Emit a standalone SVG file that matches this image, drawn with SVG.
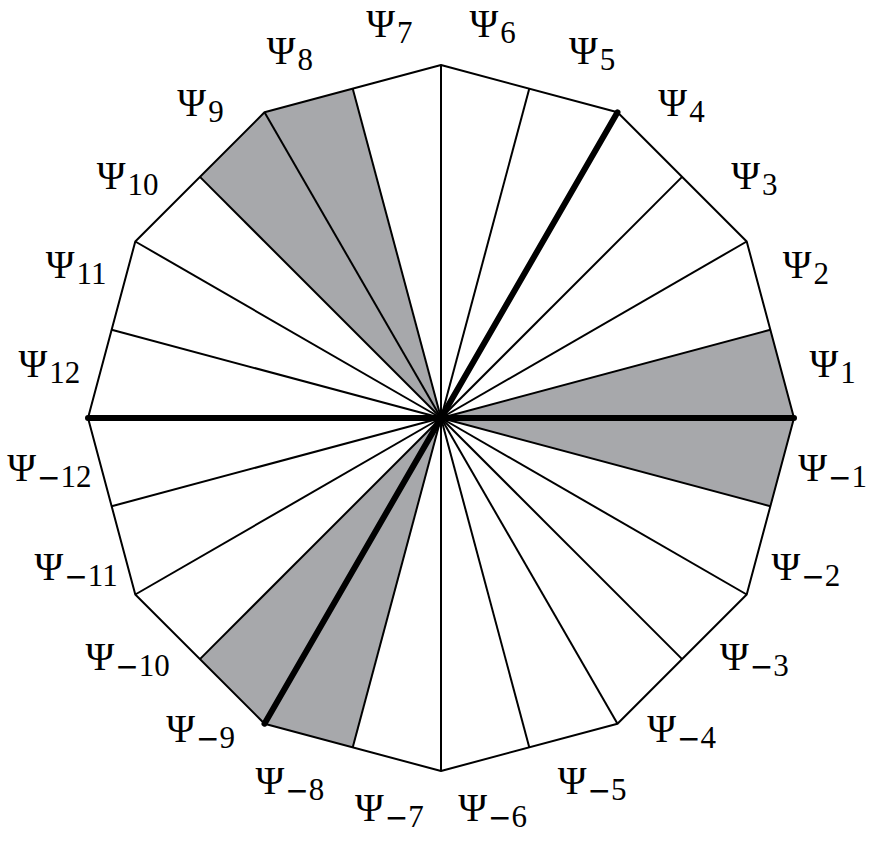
<svg xmlns="http://www.w3.org/2000/svg" width="872" height="856" viewBox="0 0 872 856">
<style>
.shade{fill:#a7a8ab;stroke:none}
.thin{stroke:#000;stroke-width:2;fill:none;stroke-linejoin:round}
.thick{stroke:#000;stroke-width:6;stroke-linecap:round;fill:none}
.lbl{font-family:"Liberation Serif","DejaVu Serif",serif;font-size:39px;fill:#000;text-anchor:middle}
.sub{font-size:31px}
.m{font-family:"DejaVu Sans",sans-serif;font-size:28px}
</style>
<rect width="872" height="856" fill="#fff"/>
<g id="shading">
<polygon class="shade" points="441,418 770.35,329.75 794,418 770.35,506.25"/>
<polygon class="shade" points="441,418 352.75,88.65 264.5,112.29 199.9,176.9"/>
<polygon class="shade" points="441,418 199.9,659.1 264.5,723.71 352.75,747.35"/>
</g>
<g id="rays" class="thin">
<line x1="441" y1="418" x2="794" y2="418"/>
<line x1="441" y1="418" x2="770.35" y2="329.75"/>
<line x1="441" y1="418" x2="746.71" y2="241.5"/>
<line x1="441" y1="418" x2="682.1" y2="176.9"/>
<line x1="441" y1="418" x2="617.5" y2="112.29"/>
<line x1="441" y1="418" x2="529.25" y2="88.65"/>
<line x1="441" y1="418" x2="441" y2="65"/>
<line x1="441" y1="418" x2="352.75" y2="88.65"/>
<line x1="441" y1="418" x2="264.5" y2="112.29"/>
<line x1="441" y1="418" x2="199.9" y2="176.9"/>
<line x1="441" y1="418" x2="135.29" y2="241.5"/>
<line x1="441" y1="418" x2="111.65" y2="329.75"/>
<line x1="441" y1="418" x2="88" y2="418"/>
<line x1="441" y1="418" x2="111.65" y2="506.25"/>
<line x1="441" y1="418" x2="135.29" y2="594.5"/>
<line x1="441" y1="418" x2="199.9" y2="659.1"/>
<line x1="441" y1="418" x2="264.5" y2="723.71"/>
<line x1="441" y1="418" x2="352.75" y2="747.35"/>
<line x1="441" y1="418" x2="441" y2="771"/>
<line x1="441" y1="418" x2="529.25" y2="747.35"/>
<line x1="441" y1="418" x2="617.5" y2="723.71"/>
<line x1="441" y1="418" x2="682.1" y2="659.1"/>
<line x1="441" y1="418" x2="746.71" y2="594.5"/>
<line x1="441" y1="418" x2="770.35" y2="506.25"/>
</g>
<g id="dodecagon">
<polygon class="thin" points="794,418 746.71,241.5 617.5,112.29 441,65 264.5,112.29 135.29,241.5 88,418 135.29,594.5 264.5,723.71 441,771 617.5,723.71 746.71,594.5"/>
</g>
<g id="thick-lines" class="thick">
<line x1="88" y1="418" x2="794" y2="418"/>
<line x1="441" y1="418" x2="617.5" y2="112.29"/>
<line x1="441" y1="418" x2="264.5" y2="723.71"/>
</g>
<g id="labels" class="lbl">
<text x="832.6" y="377.4">Ψ<tspan class="sub" dx="2" dy="6">1</tspan></text>
<text x="805.9" y="277.8">Ψ<tspan class="sub" dx="2" dy="6">2</tspan></text>
<text x="754.4" y="188.5">Ψ<tspan class="sub" dx="2" dy="6">3</tspan></text>
<text x="681.5" y="115.6">Ψ<tspan class="sub" dx="2" dy="6">4</tspan></text>
<text x="592.2" y="64.1">Ψ<tspan class="sub" dx="2" dy="6">5</tspan></text>
<text x="492.6" y="37.4">Ψ<tspan class="sub" dx="2" dy="6">6</tspan></text>
<text x="389.4" y="37.4">Ψ<tspan class="sub" dx="2" dy="6">7</tspan></text>
<text x="289.8" y="64.1">Ψ<tspan class="sub" dx="2" dy="6">8</tspan></text>
<text x="200.5" y="115.6">Ψ<tspan class="sub" dx="2" dy="6">9</tspan></text>
<text x="127.6" y="188.5">Ψ<tspan class="sub" dx="2" dy="6">10</tspan></text>
<text x="76.1" y="277.8">Ψ<tspan class="sub" dx="2" dy="6">11</tspan></text>
<text x="49.4" y="377.4">Ψ<tspan class="sub" dx="2" dy="6">12</tspan></text>
<text x="832.6" y="480.6">Ψ<tspan class="m" dx="1" dy="6">−</tspan><tspan class="sub">1</tspan></text>
<text x="805.9" y="580.2">Ψ<tspan class="m" dx="1" dy="6">−</tspan><tspan class="sub">2</tspan></text>
<text x="754.4" y="669.5">Ψ<tspan class="m" dx="1" dy="6">−</tspan><tspan class="sub">3</tspan></text>
<text x="681.5" y="742.4">Ψ<tspan class="m" dx="1" dy="6">−</tspan><tspan class="sub">4</tspan></text>
<text x="592.2" y="793.9">Ψ<tspan class="m" dx="1" dy="6">−</tspan><tspan class="sub">5</tspan></text>
<text x="492.6" y="820.6">Ψ<tspan class="m" dx="1" dy="6">−</tspan><tspan class="sub">6</tspan></text>
<text x="389.4" y="820.6">Ψ<tspan class="m" dx="1" dy="6">−</tspan><tspan class="sub">7</tspan></text>
<text x="289.8" y="793.9">Ψ<tspan class="m" dx="1" dy="6">−</tspan><tspan class="sub">8</tspan></text>
<text x="200.5" y="742.4">Ψ<tspan class="m" dx="1" dy="6">−</tspan><tspan class="sub">9</tspan></text>
<text x="127.6" y="669.5">Ψ<tspan class="m" dx="1" dy="6">−</tspan><tspan class="sub">10</tspan></text>
<text x="76.1" y="580.2">Ψ<tspan class="m" dx="1" dy="6">−</tspan><tspan class="sub">11</tspan></text>
<text x="49.4" y="480.6">Ψ<tspan class="m" dx="1" dy="6">−</tspan><tspan class="sub">12</tspan></text>
</g>
</svg>
